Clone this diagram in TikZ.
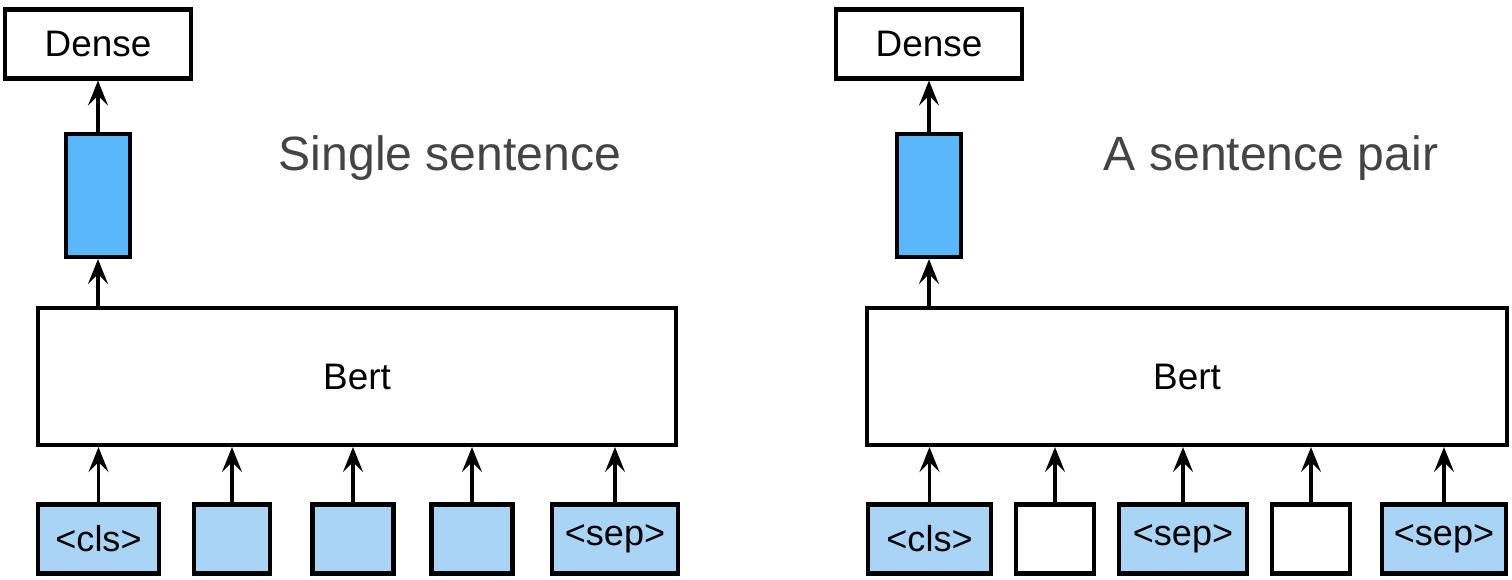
\documentclass[tikz,border=0pt]{standalone}
\usepackage{fontspec}
\setmainfont{Liberation Sans}
\usetikzlibrary{arrows.meta}
\definecolor{barblue}{HTML}{5AB7F9}
\definecolor{tokblue}{HTML}{A9D4F6}
\definecolor{titlegray}{HTML}{444444}
\tikzset{
	box/.style={draw=black, line width=2.4pt, inner sep=0pt, fill=white},
	tok/.style={box, fill=tokblue, minimum height=1.38cm, font=\fontsize{20.5}{22}\selectfont},
	up/.style={line width=2pt, -{Stealth[length=5mm, width=4mm, inset=2mm]}},
}

\begin{document}
\begin{tikzpicture}[x=0.02cm, y=-0.02cm]
			%%%%% START %%%%%
			\useasboundingbox (0, 0) rectangle (1512, 580);
			
			%%%%% single sentence %%%%%
			\node[box, minimum width=3.72cm, minimum height=1.38cm, font=\fontsize{21}{23}\selectfont] (dense1) at (98, 44) {Dense};
			\node[box, fill=barblue, minimum width=1.28cm, minimum height=2.46cm] (vec1) at (98, 195.5) {};
			\node[box, minimum width=12.76cm, minimum height=2.74cm, font=\fontsize{21}{23}\selectfont] (bert1) at (357, 376.5) {Bert};
			\node[font=\fontsize{27.4}{31}\selectfont, text=titlegray] (title1) at (450, 158) {Single sentence};
			
			\node[tok, minimum width=2.42cm] (a1) at (98.5, 539) {<cls>};
			\node[tok, minimum width=1.52cm] (a2) at (232, 539) {};
			\node[tok, minimum width=1.62cm] (a3) at (353, 539) {};
			\node[tok, minimum width=1.62cm] (a4) at (472, 539) {};
			\node[tok, minimum width=2.52cm] (a5) at (615, 539) {<sep>};
			
			\draw[up] (vec1.north) -- (dense1.south);
			\draw[up] (vec1 |- bert1.north) -- (vec1.south);
			\foreach \i in {1,...,5}
				\draw[up] (a\i.north) -- (a\i.north |- bert1.south);
			
			%%%%% sentence pair %%%%%
			\node[box, minimum width=3.72cm, minimum height=1.38cm, font=\fontsize{21}{23}\selectfont] (dense2) at (929, 44) {Dense};
			\node[box, fill=barblue, minimum width=1.28cm, minimum height=2.46cm] (vec2) at (929, 195.5) {};
			\node[box, minimum width=12.8cm, minimum height=2.74cm, font=\fontsize{21}{23}\selectfont] (bert2) at (1187, 376.5) {Bert};
			\node[font=\fontsize{27.4}{31}\selectfont, text=titlegray] (title2) at (1271, 158) {A sentence pair};
			
			\node[tok, minimum width=2.46cm] (b1) at (929.5, 539) {<cls>};
			\node[tok, fill=white, minimum width=1.56cm] (b2) at (1055, 539) {};
			\node[tok, minimum width=2.56cm] (b3) at (1183, 539) {<sep>};
			\node[tok, fill=white, minimum width=1.56cm] (b4) at (1311, 539) {};
			\node[tok, minimum width=2.48cm] (b5) at (1444, 539) {<sep>};
			
			\draw[up] (vec2.north) -- (dense2.south);
			\draw[up] (vec2 |- bert2.north) -- (vec2.south);
			\foreach \i in {1,...,5}
				\draw[up] (b\i.north) -- (b\i.north |- bert2.south);
			%%%%% END %%%%%
\end{tikzpicture}
\end{document}
